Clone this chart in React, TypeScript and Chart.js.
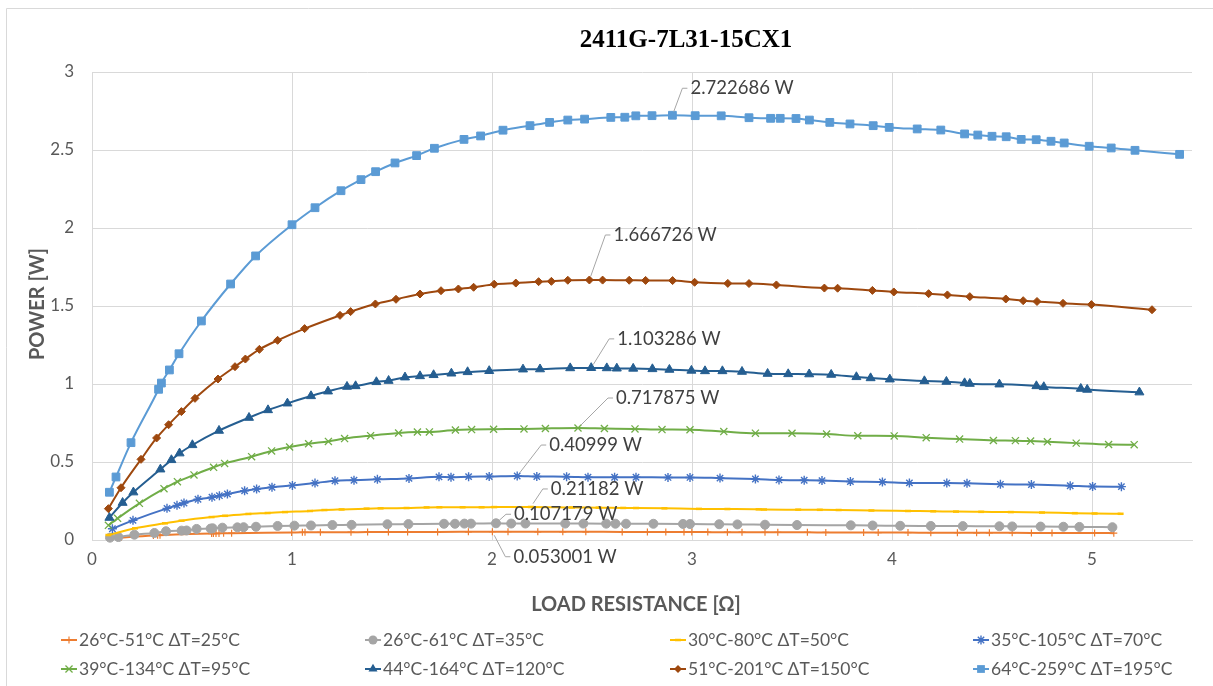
import React, { useEffect, useRef } from "react";
import { Chart, registerables } from "chart.js";

Chart.register(...registerables);

// ---------- DATA ----------
const seriesLabels = [
  "26°C-51°C ΔT=25°C",
  "26°C-61°C ΔT=35°C",
  "30°C-80°C ΔT=50°C",
  "35°C-105°C ΔT=70°C",
  "39°C-134°C ΔT=95°C",
  "44°C-164°C ΔT=120°C",
  "51°C-201°C ΔT=150°C",
  "64°C-259°C ΔT=195°C",
];

const x25 = [0.09, 0.145, 0.307, 0.328, 0.34, 0.598, 0.607, 0.62, 0.635, 0.658, 0.698, 0.998, 1.052, 1.065, 1.142, 1.295, 1.378, 1.482, 1.578, 1.728, 1.882, 2.002, 2.08, 2.229, 2.354, 2.469, 2.651, 2.777, 2.869, 2.96, 2.999, 3.079, 3.177, 3.25, 3.365, 3.429, 3.577, 3.669, 3.858, 3.931, 4.08, 4.194, 4.327, 4.423, 4.487, 4.601, 4.697, 4.8, 5.013, 5.109];
const y25 = [0.011, 0.016, 0.029, 0.03, 0.031, 0.041, 0.041, 0.042, 0.042, 0.043, 0.044, 0.048, 0.049, 0.049, 0.049, 0.05, 0.051, 0.051, 0.052, 0.052, 0.0525, 0.053001, 0.0528, 0.0526, 0.0524, 0.0522, 0.052, 0.0515, 0.0512, 0.051, 0.0508, 0.0505, 0.0502, 0.05, 0.0496, 0.0494, 0.049, 0.0487, 0.048, 0.0478, 0.0473, 0.047, 0.0466, 0.0463, 0.0461, 0.0457, 0.0454, 0.045, 0.0443, 0.044];

const x35 = [0.09, 0.132, 0.212, 0.312, 0.37, 0.448, 0.473, 0.523, 0.593, 0.603, 0.652, 0.727, 0.758, 0.82, 0.928, 1.012, 1.095, 1.202, 1.298, 1.477, 1.582, 1.76, 1.815, 1.862, 1.895, 2.02, 2.096, 2.167, 2.366, 2.457, 2.571, 2.617, 2.67, 2.807, 2.955, 2.99, 3.136, 3.227, 3.365, 3.525, 3.794, 3.903, 4.041, 4.194, 4.354, 4.537, 4.601, 4.743, 4.857, 4.937, 5.102];
const y35 = [0.015, 0.019, 0.034, 0.045, 0.056, 0.06, 0.061, 0.071, 0.073, 0.075, 0.079, 0.081, 0.082, 0.085, 0.09, 0.092, 0.093, 0.096, 0.097, 0.101, 0.102, 0.104, 0.104, 0.105, 0.105, 0.107179, 0.1055, 0.1055, 0.1052, 0.105, 0.1048, 0.1045, 0.1042, 0.104, 0.103, 0.1025, 0.101, 0.1, 0.098, 0.096, 0.094, 0.093, 0.091, 0.09, 0.089, 0.088, 0.087, 0.086, 0.085, 0.084, 0.082];

const x50 = [0.082, 0.215, 0.365, 0.448, 0.598, 0.665, 0.782, 0.878, 0.965, 1.09, 1.162, 1.248, 1.373, 1.443, 1.573, 1.673, 1.737, 1.853, 1.948, 2.011, 2.194, 2.4, 2.533, 2.656, 2.72, 2.862, 3.035, 3.177, 3.333, 3.36, 3.531, 3.639, 3.733, 3.897, 4.08, 4.206, 4.32, 4.446, 4.594, 4.75, 4.914, 5.013, 5.143];
const y50 = [0.032, 0.075, 0.107, 0.124, 0.147, 0.155, 0.167, 0.173, 0.179, 0.186, 0.192, 0.196, 0.201, 0.203, 0.205, 0.209, 0.21, 0.21, 0.21, 0.211, 0.21182, 0.2085, 0.2073, 0.2055, 0.205, 0.203, 0.1995, 0.1985, 0.1966, 0.1955, 0.1945, 0.1935, 0.1923, 0.189, 0.186, 0.184, 0.182, 0.1805, 0.179, 0.176, 0.172, 0.17, 0.168];

const x70 = [0.102, 0.205, 0.375, 0.425, 0.46, 0.53, 0.6, 0.637, 0.677, 0.763, 0.823, 0.9, 1.002, 1.115, 1.215, 1.31, 1.427, 1.585, 1.735, 1.795, 1.883, 1.986, 2.126, 2.224, 2.373, 2.48, 2.613, 2.72, 2.88, 2.99, 3.14, 3.317, 3.435, 3.561, 3.65, 3.792, 3.952, 4.087, 4.274, 4.375, 4.542, 4.697, 4.891, 5.003, 5.147];
const y70 = [0.072, 0.126, 0.203, 0.222, 0.237, 0.261, 0.274, 0.284, 0.295, 0.316, 0.327, 0.338, 0.35, 0.365, 0.38, 0.383, 0.389, 0.395, 0.405, 0.402, 0.406, 0.407, 0.40999, 0.407, 0.406, 0.403, 0.402, 0.402, 0.401, 0.401, 0.397, 0.391, 0.385, 0.383, 0.381, 0.375, 0.372, 0.366, 0.365, 0.363, 0.357, 0.355, 0.348, 0.343, 0.342];

const x95 = [0.082, 0.128, 0.237, 0.36, 0.427, 0.51, 0.608, 0.663, 0.798, 0.898, 0.988, 1.083, 1.182, 1.263, 1.393, 1.533, 1.627, 1.687, 1.817, 1.898, 2.008, 2.16, 2.267, 2.43, 2.562, 2.715, 2.85, 2.99, 3.159, 3.317, 3.5, 3.673, 3.829, 4.011, 4.171, 4.338, 4.507, 4.617, 4.693, 4.777, 4.921, 5.083, 5.211];
const y95 = [0.094, 0.139, 0.235, 0.329, 0.374, 0.417, 0.466, 0.491, 0.534, 0.571, 0.596, 0.617, 0.632, 0.65, 0.669, 0.686, 0.692, 0.693, 0.705, 0.708, 0.71, 0.712, 0.715, 0.717875, 0.715, 0.712, 0.708, 0.707, 0.695, 0.685, 0.684, 0.679, 0.668, 0.667, 0.656, 0.647, 0.638, 0.637, 0.634, 0.63, 0.621, 0.612, 0.611];

const x120 = [0.087, 0.153, 0.207, 0.342, 0.397, 0.438, 0.502, 0.635, 0.785, 0.88, 0.977, 1.095, 1.18, 1.275, 1.318, 1.422, 1.483, 1.565, 1.64, 1.708, 1.797, 1.878, 1.986, 2.155, 2.24, 2.391, 2.496, 2.574, 2.624, 2.706, 2.802, 2.887, 2.997, 3.065, 3.152, 3.25, 3.378, 3.481, 3.586, 3.696, 3.822, 3.893, 3.989, 4.162, 4.272, 4.363, 4.389, 4.537, 4.722, 4.759, 4.944, 4.976, 5.237];
const y120 = [0.143, 0.239, 0.306, 0.453, 0.513, 0.556, 0.609, 0.701, 0.784, 0.833, 0.876, 0.923, 0.953, 0.983, 0.987, 1.013, 1.021, 1.043, 1.051, 1.058, 1.068, 1.077, 1.084, 1.094, 1.095, 1.102, 1.103286, 1.102, 1.1, 1.099, 1.096, 1.092, 1.086, 1.083, 1.083, 1.079, 1.066, 1.064, 1.063, 1.06, 1.045, 1.038, 1.03, 1.019, 1.015, 1.006, 1.002, 0.998, 0.987, 0.981, 0.97, 0.964, 0.947];

const x150 = [0.082, 0.145, 0.245, 0.323, 0.383, 0.447, 0.515, 0.63, 0.715, 0.767, 0.837, 0.928, 1.063, 1.24, 1.293, 1.417, 1.52, 1.64, 1.745, 1.832, 1.908, 2.011, 2.119, 2.233, 2.297, 2.379, 2.487, 2.553, 2.686, 2.768, 2.903, 3.013, 3.179, 3.285, 3.422, 3.662, 3.728, 3.902, 4.009, 4.183, 4.277, 4.389, 4.569, 4.656, 4.725, 4.855, 4.997, 5.3];
const y150 = [0.201, 0.335, 0.517, 0.654, 0.739, 0.823, 0.908, 1.032, 1.111, 1.16, 1.222, 1.28, 1.355, 1.44, 1.464, 1.513, 1.543, 1.577, 1.598, 1.609, 1.62, 1.64, 1.647, 1.656, 1.658, 1.665, 1.666726, 1.666, 1.665, 1.664, 1.663, 1.652, 1.645, 1.644, 1.635, 1.615, 1.614, 1.6, 1.59, 1.579, 1.571, 1.56, 1.545, 1.534, 1.529, 1.517, 1.509, 1.476];

const x195 = [0.087, 0.12, 0.195, 0.333, 0.347, 0.387, 0.435, 0.547, 0.693, 0.818, 1.0, 1.115, 1.245, 1.345, 1.418, 1.515, 1.623, 1.712, 1.86, 1.943, 2.055, 2.19, 2.288, 2.379, 2.463, 2.594, 2.664, 2.719, 2.8, 2.902, 3.016, 3.146, 3.285, 3.393, 3.441, 3.52, 3.587, 3.689, 3.79, 3.906, 3.986, 4.126, 4.244, 4.363, 4.429, 4.5, 4.571, 4.646, 4.721, 4.795, 4.861, 4.986, 5.096, 5.215, 5.438];
const y195 = [0.306, 0.404, 0.624, 0.966, 1.006, 1.09, 1.194, 1.404, 1.641, 1.821, 2.021, 2.13, 2.239, 2.31, 2.361, 2.417, 2.464, 2.511, 2.568, 2.59, 2.627, 2.656, 2.677, 2.692, 2.698, 2.709, 2.71, 2.719, 2.72, 2.722686, 2.72, 2.719, 2.707, 2.703, 2.703, 2.702, 2.692, 2.677, 2.667, 2.656, 2.645, 2.635, 2.628, 2.603, 2.596, 2.588, 2.585, 2.568, 2.566, 2.556, 2.545, 2.524, 2.513, 2.498, 2.472];

const seriesX = [x25, x35, x50, x70, x95, x120, x150, x195];
const seriesY = [y25, y35, y50, y70, y95, y120, y150, y195];

const xTicks = [0, 1, 2, 3, 4, 5];
const yTicks = [0, 0.5, 1, 1.5, 2, 2.5, 3];

const titleText = "2411G-7L31-15CX1";
const xTitle = "LOAD RESISTANCE [Ω]";
const yTitle = "POWER [W]";

// ---------- STYLE ----------
const colors = ["#ED7D31", "#A5A5A5", "#FFC000", "#4472C4", "#70AD47", "#255E91", "#9E480E", "#5B9BD5"];
const pointStyles = ["cross", "circle", "line", "star", "crossRot", "triangle", "rectRot", "rect"];
const pointRadii = [3.5, 4.5, 3, 4.5, 5, 5.2, 4, 5.5];
const pointBorders = [1.2, 1, 2.5, 1.4, 1.3, 1, 1, 1];
// label offsets from the peak point: [dx to text left, dy to text centre]
const labelOffsets = [
  [21, 25],
  [18, -9],
  [20, -18],
  [32, -31],
  [38, -30],
  [26, -29],
  [24, -45],
  [18, -27],
];
const legendCols = [69, 373, 678, 981];
const legendRows = [640, 669];

const FONT = "Lato, 'Open Sans', sans-serif";

function drawMarker(ctx: CanvasRenderingContext2D, style: string, x: number, y: number, r: number, color: string, bw: number) {
  ctx.save();
  ctx.fillStyle = color;
  ctx.strokeStyle = color;
  ctx.lineWidth = bw;
  ctx.beginPath();
  const d = r * Math.SQRT1_2;
  switch (style) {
    case "cross":
      ctx.moveTo(x, y - r); ctx.lineTo(x, y + r);
      ctx.moveTo(x - r, y); ctx.lineTo(x + r, y);
      ctx.stroke();
      break;
    case "crossRot":
      ctx.moveTo(x - d, y - d); ctx.lineTo(x + d, y + d);
      ctx.moveTo(x + d, y - d); ctx.lineTo(x - d, y + d);
      ctx.stroke();
      break;
    case "star":
      ctx.moveTo(x, y - r); ctx.lineTo(x, y + r);
      ctx.moveTo(x - r, y); ctx.lineTo(x + r, y);
      ctx.moveTo(x - d, y - d); ctx.lineTo(x + d, y + d);
      ctx.moveTo(x + d, y - d); ctx.lineTo(x - d, y + d);
      ctx.stroke();
      break;
    case "line":
      ctx.moveTo(x - r, y); ctx.lineTo(x + r, y);
      ctx.stroke();
      break;
    case "circle":
      ctx.arc(x, y, r, 0, Math.PI * 2);
      ctx.fill();
      break;
    case "triangle": {
      const h = r;
      ctx.moveTo(x, y - h);
      ctx.lineTo(x + h * Math.sin((2 * Math.PI) / 3), y - h * Math.cos((2 * Math.PI) / 3));
      ctx.lineTo(x + h * Math.sin((4 * Math.PI) / 3), y - h * Math.cos((4 * Math.PI) / 3));
      ctx.closePath();
      ctx.fill();
      break;
    }
    case "rectRot":
      ctx.moveTo(x - r, y); ctx.lineTo(x, y - r); ctx.lineTo(x + r, y); ctx.lineTo(x, y + r);
      ctx.closePath();
      ctx.fill();
      break;
    default:
      ctx.rect(x - d, y - d, 2 * d, 2 * d);
      ctx.fill();
  }
  ctx.restore();
}

const overlayPlugin = {
  id: "overlay",
  afterDraw(chart: any) {
    const ctx: CanvasRenderingContext2D = chart.ctx;
    const xs = chart.scales.x;
    const ys = chart.scales.y;
    ctx.save();
    // outer frame
    ctx.strokeStyle = "#D9D9D9";
    ctx.lineWidth = 1;
    ctx.beginPath();
    ctx.moveTo(6.5, 700);
    ctx.lineTo(6.5, 8.5);
    ctx.lineTo(1300, 8.5);
    ctx.stroke();

    // title
    ctx.fillStyle = "#000000";
    ctx.font = "bold 25px 'Liberation Serif', 'Times New Roman', serif";
    ctx.textAlign = "center";
    ctx.textBaseline = "middle";
    ctx.fillText(titleText, 686, 41);

    // axis titles
    ctx.fillStyle = "#595959";
    ctx.font = `bold 20px ${FONT}`;
    ctx.fillText(xTitle, 636, 605);
    ctx.save();
    ctx.translate(38, 304);
    ctx.rotate(-Math.PI / 2);
    ctx.fillText(yTitle, 0, 0);
    ctx.restore();

    // peak annotations
    seriesY.forEach((ys_, i) => {
      let k = 0;
      ys_.forEach((v, j) => { if (v > ys_[k]) k = j; });
      const px = xs.getPixelForValue(seriesX[i][k]);
      const py = ys.getPixelForValue(ys_[k]);
      const L = px + labelOffsets[i][0];
      const C = py + labelOffsets[i][1];
      const ex = L - 8;
      const ey = C;
      const ang = Math.atan2(ey - py, ex - px);
      const sx = px + Math.cos(ang) * 4;
      const sy = py + Math.sin(ang) * 4;
      ctx.strokeStyle = "#A6A6A6";
      ctx.lineWidth = 1;
      ctx.beginPath();
      ctx.moveTo(sx, sy);
      ctx.lineTo(ex, ey);
      ctx.lineTo(L - 3, ey);
      ctx.stroke();
      ctx.fillStyle = "#404040";
      ctx.font = `18.5px ${FONT}`;
      ctx.textAlign = "left";
      ctx.textBaseline = "middle";
      ctx.fillText(`${ys_[k]} W`, L, C);
    });

    // legend
    seriesLabels.forEach((lab, i) => {
      const cx = legendCols[i % 4];
      const cy = legendRows[Math.floor(i / 4)];
      ctx.strokeStyle = colors[i];
      ctx.lineWidth = 2;
      ctx.beginPath();
      ctx.moveTo(cx - 8, cy);
      ctx.lineTo(cx + 8, cy);
      ctx.stroke();
      drawMarker(ctx, pointStyles[i], cx, cy, pointRadii[i], colors[i], pointBorders[i]);
      ctx.fillStyle = "#595959";
      ctx.font = `17.5px ${FONT}`;
      ctx.textAlign = "left";
      ctx.textBaseline = "middle";
      ctx.fillText(lab, cx + 10, cy);
    });
    ctx.restore();
  },
};

export default function App() {
  const ref = useRef<HTMLCanvasElement | null>(null);
  useEffect(() => {
    if (!ref.current) return;
    const datasets = seriesLabels.map((label, i) => ({
      label,
      data: seriesX[i].map((x, j) => ({ x, y: seriesY[i][j] })),
      borderColor: colors[i],
      backgroundColor: colors[i],
      borderWidth: 2,
      pointStyle: pointStyles[i],
      pointRadius: pointRadii[i],
      pointBorderWidth: pointBorders[i],
      pointBackgroundColor: colors[i],
      pointBorderColor: colors[i],
      cubicInterpolationMode: "monotone" as const,
      fill: false,
      clip: false as any,
      order: seriesLabels.length - i,
    }));
    const chart = new Chart(ref.current, {
      type: "line",
      data: { datasets },
      options: {
        animation: false,
        responsive: false,
        devicePixelRatio: 1,
        layout: { padding: { left: 0, right: 21, top: 72, bottom: 0 } },
        plugins: {
          legend: { display: false },
          title: { display: false },
          tooltip: { enabled: false },
        },
        scales: {
          x: {
            type: "linear",
            min: 0,
            max: 5.5,
            afterBuildTicks: (s: any) => { s.ticks = xTicks.map((v) => ({ value: v })); },
            afterFit: (s: any) => { s.height = 146; },
            grid: { color: "#D9D9D9", drawTicks: false, lineWidth: 1 },
            border: { color: "#D9D9D9" },
            ticks: {
              padding: 9,
              color: "#595959",
              font: { family: FONT, size: 17 },
              callback: (v: any) => String(v),
              maxRotation: 0,
            },
          },
          y: {
            type: "linear",
            min: 0,
            max: 3,
            afterBuildTicks: (s: any) => { s.ticks = yTicks.map((v) => ({ value: v })); },
            afterFit: (s: any) => { s.width = 92; },
            grid: { color: "#D9D9D9", drawTicks: false, lineWidth: 1 },
            border: { color: "#D9D9D9" },
            ticks: {
              padding: 18,
              color: "#595959",
              font: { family: FONT, size: 17 },
              callback: (v: any) => String(v),
            },
          },
        },
      },
      plugins: [overlayPlugin],
    });
    return () => chart.destroy();
  }, []);
  return (
    <div style={{ position: "absolute", left: 0, top: 0, width: 1213, height: 686, background: "#ffffff" }}>
      <canvas ref={ref} width={1213} height={686} style={{ display: "block", width: 1213, height: 686 }} />
    </div>
  );
}
